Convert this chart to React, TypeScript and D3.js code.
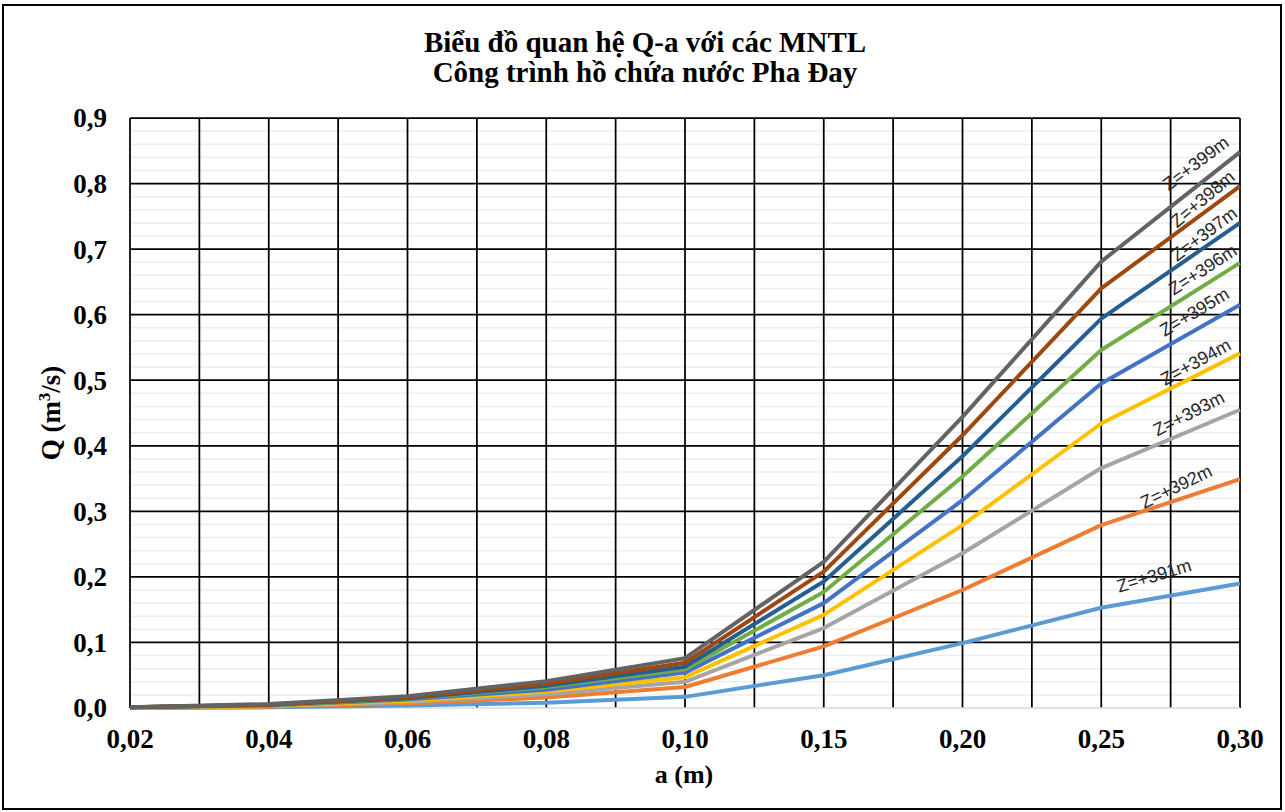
import { useEffect } from 'react'
import * as d3 from 'd3'

// Q-a rating curves for each reservoir water level
const A_LABELS = ['0,02', '0,04', '0,06', '0,08', '0,10', '0,15', '0,20', '0,25', '0,30']
const LEVELS = ['Z=+391m', 'Z=+392m', 'Z=+393m', 'Z=+394m', 'Z=+395m', 'Z=+396m', 'Z=+397m', 'Z=+398m', 'Z=+399m']

const Q391 = [0.0, 0.001, 0.004, 0.008, 0.017, 0.05, 0.099, 0.153, 0.19]
const Q392 = [0.0, 0.002, 0.007, 0.016, 0.032, 0.094, 0.18, 0.279, 0.349]
const Q393 = [0.0, 0.003, 0.009, 0.021, 0.04, 0.122, 0.236, 0.366, 0.455]
const Q394 = [0.001, 0.003, 0.011, 0.025, 0.047, 0.142, 0.279, 0.434, 0.541]
const Q395 = [0.001, 0.004, 0.013, 0.028, 0.054, 0.16, 0.317, 0.495, 0.615]
const Q396 = [0.001, 0.004, 0.014, 0.032, 0.059, 0.177, 0.353, 0.546, 0.679]
const Q397 = [0.001, 0.005, 0.015, 0.034, 0.063, 0.193, 0.384, 0.594, 0.74]
const Q398 = [0.001, 0.005, 0.016, 0.037, 0.069, 0.208, 0.416, 0.64, 0.796]
const Q399 = [0.001, 0.006, 0.018, 0.041, 0.076, 0.223, 0.444, 0.681, 0.848]

const SERIES = [Q391, Q392, Q393, Q394, Q395, Q396, Q397, Q398, Q399]
const COLORS = ['#5b9bd5', '#ed7d31', '#a5a5a5', '#ffc000', '#4472c4', '#70ad47', '#255e91', '#9e480e', '#636363']

// label placement along the last segment: fraction t, lift above line (px), rotation
const LABEL_T = [0.38, 0.54, 0.63, 0.68, 0.67, 0.73, 0.74, 0.73, 0.68]
const LABEL_LIFT = [23, 14, 18, 14, 19, 17, 14, 15, 24]
const LABEL_ROT = [-17, -26, -27, -29, -31, -33, -37, -40, -37]

const W = 1285
const H = 812
const L = 130
const R = 1240
const T = 118
const B = 708

const SERIF = "'Times New Roman', 'Liberation Serif', serif"

export default function App() {
  useEffect(() => {
    document.body.style.margin = '0'
  }, [])

  const x = d3.scalePoint<string>().domain(A_LABELS).range([L, R])
  const y = d3.scaleLinear().domain([0, 0.9]).range([B, T])
  const line = d3
    .line<number>()
    .x((_, i) => x(A_LABELS[i]) as number)
    .y((d) => y(d))

  const majors = y.ticks(9)
  const minors = y.ticks(45).filter((v) => !majors.some((m) => Math.abs(m - v) < 1e-9))
  const pos = A_LABELS.map((c) => x(c) as number)
  const vgrid = [...pos, ...d3.pairs(pos).map(([a, b]) => (a + b) / 2)]

  const n = A_LABELS.length

  return (
    <svg width={W} height={H} style={{ position: 'absolute', left: 0, top: 0, background: '#fff' }}>
      <rect x={3} y={5} width={1278} height={804} fill="#fff" stroke="#000" strokeWidth={2} />

      <text x={645} y={52} textAnchor="middle" fontFamily={SERIF} fontWeight="bold" fontSize={29}>
        Biểu đồ quan hệ Q-a với các MNTL
      </text>
      <text x={645} y={82} textAnchor="middle" fontFamily={SERIF} fontWeight="bold" fontSize={29}>
        Công trình hồ chứa nước Pha Đay
      </text>

      {minors.map((v) => (
        <line key={'m' + v} x1={L} x2={R} y1={y(v)} y2={y(v)} stroke="#ededed" strokeWidth={1.5} />
      ))}
      {vgrid.map((gx, i) => (
        <line key={'v' + i} x1={gx} x2={gx} y1={T} y2={B} stroke="#000" strokeWidth={1.75} />
      ))}
      {majors
        .filter((v) => v > 0)
        .map((v) => (
          <line key={'M' + v} x1={L} x2={R} y1={y(v)} y2={y(v)} stroke="#000" strokeWidth={1.75} />
        ))}
      <line x1={L} x2={R} y1={B} y2={B} stroke="#d9d9d9" strokeWidth={1.5} />

      {majors.map((v) => (
        <text
          key={'yl' + v}
          x={107}
          y={y(v)}
          dy="0.35em"
          textAnchor="end"
          fontFamily={SERIF}
          fontWeight="bold"
          fontSize={27}
        >
          {v.toFixed(1).replace('.', ',')}
        </text>
      ))}
      {A_LABELS.map((c) => (
        <text key={'xl' + c} x={x(c)} y={748} textAnchor="middle" fontFamily={SERIF} fontWeight="bold" fontSize={27}>
          {c}
        </text>
      ))}

      <text x={684} y={783} textAnchor="middle" fontFamily={SERIF} fontWeight="bold" fontSize={26}>
        a (m)
      </text>
      <text
        transform={`translate(60,413) rotate(-90)`}
        textAnchor="middle"
        fontFamily={SERIF}
        fontWeight="bold"
        fontSize={27}
      >
        Q (m
        <tspan dy={-10} fontSize={17}>
          3
        </tspan>
        <tspan dy={10}>/s)</tspan>
      </text>

      {SERIES.map((s, i) => (
        <path
          key={LEVELS[i]}
          d={line(s) as string}
          fill="none"
          stroke={COLORS[i]}
          strokeWidth={4}
          strokeLinejoin="round"
        />
      ))}

      {SERIES.map((s, i) => {
        const x0 = x(A_LABELS[n - 2]) as number
        const x1 = x(A_LABELS[n - 1]) as number
        const t = LABEL_T[i]
        const cx = x0 + (x1 - x0) * t
        const cy = y(s[n - 2]) + (y(s[n - 1]) - y(s[n - 2])) * t - LABEL_LIFT[i]
        return (
          <text
            key={'lab' + i}
            transform={`translate(${cx},${cy}) rotate(${LABEL_ROT[i]})`}
            dy="0.35em"
            textAnchor="middle"
            fontFamily="'Liberation Sans', Arial, sans-serif"
            fontSize={18}
            fill="#262626"
          >
            {LEVELS[i]}
          </text>
        )
      })}
    </svg>
  )
}
